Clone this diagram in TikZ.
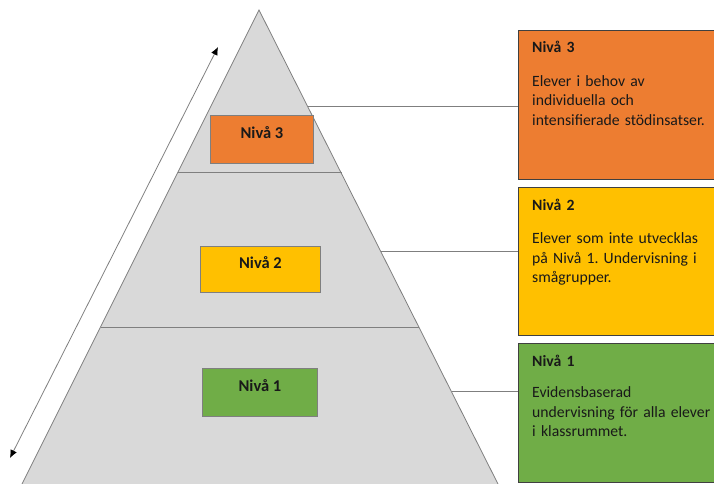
\documentclass[tikz,border=0pt]{standalone}
\usepackage{fontspec}
\setmainfont{Carlito}
\usepackage{xcolor}
\usepackage{tikz}
\usetikzlibrary{positioning,arrows.meta}
\definecolor{nivaorange}{HTML}{ED7D31}
\definecolor{nivayellow}{HTML}{FFC000}
\definecolor{nivagreen}{HTML}{70AD47}
\definecolor{pyrgray}{HTML}{D9D9D9}
\definecolor{linegray}{HTML}{7F7F7F}
\frenchspacing

\begin{document}
\begin{tikzpicture}[x=1pt, y=-1pt,
  pyrbox/.style={draw=linegray, line width=0.9pt, anchor=north west,
    inner sep=0pt, text height=11pt, text depth=12pt, text=black!90,
    font=\fontsize{16.5}{18}\selectfont\bfseries},
  infobox/.style={draw=black!75, line width=1.1pt, anchor=north west,
    inner sep=0pt, minimum width=198pt},
  infotext/.style={anchor=base west, inner sep=0pt, align=left,
    text width=185pt, text=black!90,
    font=\fontsize{15.7}{19.5}\selectfont},
  conn/.style={draw=linegray, line width=0.8pt}]

\useasboundingbox (0,0) rectangle (714,484);

% Pyramid
\fill[pyrgray] (259,10) -- (21,486) -- (499,486) -- cycle;
\draw[linegray, line width=0.8pt] (21,486) -- (259,10) -- (499,486);
\draw[linegray, line width=0.8pt] (178,172) -- (342,172);
\draw[linegray, line width=0.8pt] (101,327) -- (419,327);

% Levels in the pyramid
\foreach \n/\col/\xa/\ya/\w/\h in {3/nivaorange/210/115/103/48,
  2/nivayellow/200/246/120/46, 1/nivagreen/202/368/115/48}
{
  \node[pyrbox, fill=\col, minimum width=\w pt, minimum height=\h pt]
    (Pyr-\n) at (\xa,\ya) {Nivå \n};
}

% Description boxes
\foreach \n/\col/\ya/\h in {3/nivaorange/30/149,
  2/nivayellow/187/148, 1/nivagreen/343/139}
{
  \node[infobox, fill=\col, minimum height=\h pt] (Info-\n) at (518,\ya) {};
}

% Description texts
\node[infotext] (Text-3) at ([xshift=14pt, yshift=-23pt]Info-3.north west)
  {\textbf{Nivå 3}\\[14pt]Elever i behov av\\individuella och\\intensifierade stödinsatser.};
\node[infotext] (Text-2) at ([xshift=14pt, yshift=-23pt]Info-2.north west)
  {\textbf{Nivå 2}\\[14pt]Elever som inte utvecklas\\på Nivå 1. Undervisning i\\smågrupper.};
\node[infotext] (Text-1) at ([xshift=14pt, yshift=-23pt]Info-1.north west)
  {\textbf{Nivå 1}\\[12pt]Evidensbaserad\\undervisning för alla elever\\i klassrummet.};

% Connectors from pyramid edge to boxes
\foreach \n/\ya in {3/106, 2/251, 1/391}
{
  \coordinate (Edge-\n) at ({260+0.504*(\ya-10)},\ya);
  \draw[conn] (Edge-\n) -- (Info-\n.west |- Edge-\n);
}

% Double arrow
\coordinate (Arrow-top) at (218,47);
\coordinate (Arrow-bot) at (10,458);
\draw[conn, {Latex[length=8pt,width=7pt,color=black]}-{Latex[length=8pt,width=7pt,color=black]}]
  (Arrow-bot) -- (Arrow-top);

\end{tikzpicture}
\end{document}
